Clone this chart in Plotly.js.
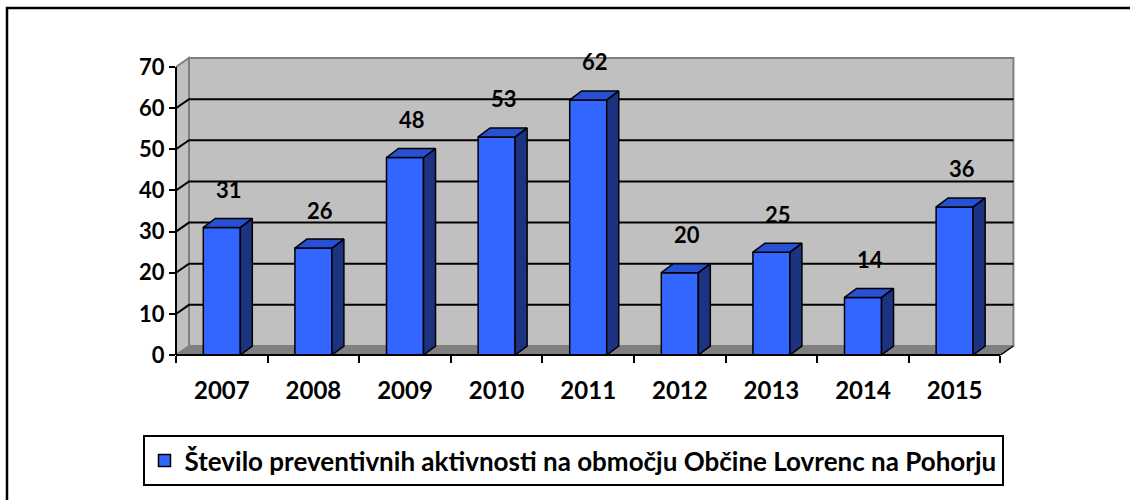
<!DOCTYPE html>
<html>
<head>
<meta charset="utf-8">
<script src="https://cdn.plot.ly/plotly-3.0.1.min.js"></script>
<style>
  html, body { margin: 0; padding: 0; background: #ffffff; }
  #chart { width: 1130px; height: 500px; }
</style>
</head>
<body>
<div id="chart"></div>
<script>
// ---- data ----
const years = ['2007', '2008', '2009', '2010', '2011', '2012', '2013', '2014', '2015'];
const counts = [31, 26, 48, 53, 62, 20, 25, 14, 36];
const yTicks = [0, 10, 20, 30, 40, 50, 60, 70];
const seriesName = 'Število preventivnih aktivnosti na območju Občine Lovrenc na Pohorju';

// ---- geometry / style ----
const W = 1130, H = 500;
const M = { l: 176, r: 114, t: 55, b: 145 };
const plotW = W - M.l - M.r, plotH = H - M.t - M.b;
const xRange = [-0.5, years.length - 0.5 + 0.17];
const yMax = yTicks[yTicks.length - 1];
const yRange = [0, 72.92];
const pxX = plotW / (xRange[1] - xRange[0]);
const pxY = plotH / (yRange[1] - yRange[0]);
const wallDx = 13 / pxX, wallDy = 9 / pxY;   // depth of the back wall
const barDx = 12 / pxX, barDy = 9 / pxY;     // depth of each 3D bar
const barW = 0.404;
const FONT = 'Lato, "Open Sans", sans-serif';
const FRONT = '#3366FF', SIDE = '#1B3380', TOP = '#2850D2';
const WALL = '#C0C0C0', WALL_EDGE = '#808080', FLOOR = '#808080';

const xs = years.map((_, i) => i);
const xFirst = -0.5, xLast = years.length - 0.5;

// ---- traces ----
const traces = [{
  type: 'bar',
  x: xs,
  y: counts,
  width: barW,
  name: seriesName,
  marker: { color: FRONT, line: { color: '#000000', width: 1.5 } },
  hovertemplate: '%{y}<extra></extra>'
}];

counts.forEach((v, i) => {
  const xl = i - barW / 2, xr = i + barW / 2;
  traces.push({
    type: 'scatter', mode: 'lines', showlegend: false, hoverinfo: 'skip',
    x: [xr, xr + barDx, xr + barDx, xr, xr],
    y: [0, barDy, v + barDy, v, 0],
    fill: 'toself', fillcolor: SIDE,
    line: { color: '#000000', width: 1.5 }
  });
  traces.push({
    type: 'scatter', mode: 'lines', showlegend: false, hoverinfo: 'skip',
    x: [xl, xl + barDx, xr + barDx, xr, xl],
    y: [v, v + barDy, v + barDy, v, v],
    fill: 'toself', fillcolor: TOP,
    line: { color: '#000000', width: 1.5 }
  });
});

// ---- shapes (walls, floor, gridlines, frame) ----
const P = (x, y) => x + ',' + y;
const shapes = [];
// left wall
shapes.push({
  type: 'path', xref: 'x', yref: 'y', layer: 'below',
  path: 'M' + P(xFirst, 0) + ' L' + P(xFirst + wallDx, wallDy) + ' L' + P(xFirst + wallDx, yMax + wallDy) +
        ' L' + P(xFirst, yMax) + ' Z',
  fillcolor: WALL, line: { color: WALL_EDGE, width: 2 }
});
// back wall
shapes.push({
  type: 'rect', xref: 'x', yref: 'y', layer: 'below',
  x0: xFirst + wallDx, x1: xLast + wallDx, y0: wallDy, y1: yMax + wallDy,
  fillcolor: WALL, line: { color: WALL_EDGE, width: 2 }
});
// floor
shapes.push({
  type: 'path', xref: 'x', yref: 'y', layer: 'below',
  path: 'M' + P(xFirst, 0) + ' L' + P(xLast, 0) + ' L' + P(xLast + wallDx, wallDy) +
        ' L' + P(xFirst + wallDx, wallDy) + ' Z',
  fillcolor: FLOOR, line: { width: 0 }
});
// floor right edge
shapes.push({
  type: 'line', xref: 'x', yref: 'y', layer: 'below',
  x0: xLast, y0: 0, x1: xLast + wallDx, y1: wallDy,
  line: { color: '#000000', width: 1.5 }
});
// gridlines
yTicks.forEach(v => {
  if (v === 0 || v === yMax) return;
  shapes.push({
    type: 'path', xref: 'x', yref: 'y', layer: 'below',
    path: 'M' + P(xFirst, v) + ' L' + P(xFirst + wallDx, v + wallDy) + ' L' + P(xLast + wallDx, v + wallDy),
    line: { color: '#000000', width: 2 }
  });
});
// front axis lines
const xEndPaper = (xLast - xRange[0]) / (xRange[1] - xRange[0]);
const yTopPaper = yMax / (yRange[1] - yRange[0]);
shapes.push({ type: 'line', xref: 'paper', yref: 'paper', layer: 'above',
  x0: 0, y0: 0, x1: 0, y1: yTopPaper, line: { color: '#000000', width: 2 } });
shapes.push({ type: 'line', xref: 'paper', yref: 'paper', layer: 'above',
  x0: 0, y0: 0, x1: xEndPaper, y1: 0, line: { color: '#000000', width: 2 } });
// outer chart frame
const px2paperX = px => (px - M.l) / plotW;
const px2paperY = py => (H - M.b - py) / plotH;
shapes.push({ type: 'rect', xref: 'paper', yref: 'paper', layer: 'above',
  x0: px2paperX(7), x1: px2paperX(1140), y0: px2paperY(8), y1: px2paperY(510),
  line: { color: '#000000', width: 2.5 }, fillcolor: 'rgba(0,0,0,0)' });

// ---- data labels ----
const annotations = counts.map((v, i) => ({
  x: i, y: v, xref: 'x', yref: 'y',
  text: String(v), showarrow: false,
  xshift: 7, yshift: 38, yanchor: 'middle',
  font: { family: FONT, size: 22, color: '#000000', weight: 'bold' }
}));

const layout = {
  width: W, height: H,
  margin: M,
  paper_bgcolor: '#ffffff',
  plot_bgcolor: 'rgba(0,0,0,0)',
  showlegend: true,
  xaxis: {
    range: xRange, fixedrange: true,
    tickmode: 'array', tickvals: xs, ticktext: years,
    ticks: 'outside', ticklen: 14, tickcolor: 'rgba(0,0,0,0)',
    minor: { tickmode: 'array', tickvals: xs.map(i => i - 0.5).concat([xLast]),
             ticks: 'outside', ticklen: 7, tickwidth: 2, tickcolor: '#000000', showgrid: false },
    showgrid: false, zeroline: false, showline: false,
    tickfont: { family: FONT, size: 24, color: '#000000', weight: 'bold' }
  },
  yaxis: {
    range: yRange, fixedrange: true,
    tickmode: 'array', tickvals: yTicks,
    ticks: 'outside', ticklen: 6, tickwidth: 2, tickcolor: '#000000',
    showgrid: false, zeroline: false, showline: false,
    tickfont: { family: FONT, size: 22, color: '#000000', weight: 'bold' }
  },
  legend: {
    orientation: 'h',
    x: px2paperX(573), xanchor: 'center',
    y: px2paperY(435), yanchor: 'top',
    bgcolor: '#ffffff', bordercolor: '#000000', borderwidth: 2,
    itemwidth: 30,
    font: { family: FONT, size: 26, color: '#000000', weight: 'bold' }
  },
  shapes: shapes,
  annotations: annotations
};

Plotly.newPlot('chart', traces, layout, { displayModeBar: false, staticPlot: true });
</script>
</body>
</html>
